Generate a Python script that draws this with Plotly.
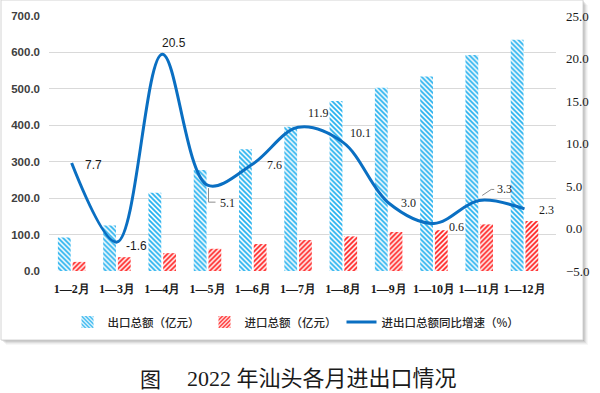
import plotly.graph_objects as go

# ---------------- data ----------------
months = ["1—2月", "1—3月", "1—4月", "1—5月", "1—6月", "1—7月",
          "1—8月", "1—9月", "1—10月", "1—11月", "1—12月"]
export_total = [92, 125, 215, 277, 334, 396, 467, 503, 534, 593, 635]
import_total = [25, 38, 49, 61, 74, 85, 95, 107, 112, 128, 137]
growth_rate = [7.7, -1.6, 20.5, 5.1, 7.6, 11.9, 10.1, 3.0, 0.6, 3.3, 2.3]

left_ticks = [0, 100, 200, 300, 400, 500, 600, 700]
right_ticks = [-5, 0, 5, 10, 15, 20, 25]

series_names = ["出口总额（亿元）", "进口总额（亿元）", "进出口总额同比增速（%）"]
caption_fig = "图"
caption_text = "2022 年汕头各月进出口情况"

# label styling (pixel offsets from each point, font family)
label_style = [
    (22, -2, "sans"), (20, -4, "sans"), (12, 11, "sans"), (20, -18, "serif"),
    (22, -1, "serif"), (20, 14, "serif"), (17, 10, "serif"), (20, 0, "serif"),
    (23, -4, "serif"), (25, 11, "serif"), (22, -1, "serif"),
]

W, H = 600, 393
ML, MR, MT, MB = 49, 44, 16, 122
PW, PH = W - ML - MR, H - MT - MB


def px(x):
    return (x - ML) / PW


def py(y):
    return (H - MB - y) / PH


SERIF = "Liberation Serif, Times New Roman, serif"
SANS = "Liberation Sans, Arial, sans-serif"
CJK = "Noto Sans CJK SC, sans-serif"

fig = go.Figure()

fig.add_trace(go.Bar(
    x=months, y=export_total, name=series_names[0], yaxis="y",
    marker=dict(color="white", line=dict(width=0),
                pattern=dict(shape="\\", fgcolor="#22B0EE", bgcolor="white",
                             size=3.5, solidity=0.5, fillmode="replace")),
))
fig.add_trace(go.Bar(
    x=months, y=import_total, name=series_names[1], yaxis="y",
    marker=dict(color="white", line=dict(width=0),
                pattern=dict(shape="/", fgcolor="#FF1A1A", bgcolor="white",
                             size=3.5, solidity=0.5, fillmode="replace")),
))
fig.add_trace(go.Scatter(
    x=months, y=growth_rate, name=series_names[2], yaxis="y2",
    mode="lines", line=dict(color="#0A6FC2", width=3, shape="spline", smoothing=1.0),
))

annotations = []
for m, v, (dx, dy, fam) in zip(months, growth_rate, label_style):
    annotations.append(dict(
        x=m, y=v, xref="x", yref="y2", text=f"{v:.1f}", showarrow=False,
        xshift=dx, yshift=dy, xanchor="center", yanchor="middle",
        font=dict(family=SANS if fam == "sans" else SERIF, size=12,
                  color="#1a1a1a"),
    ))

# caption
annotations.append(dict(x=px(150), y=py(378), xref="paper", yref="paper",
                        text=caption_fig, showarrow=False, xanchor="center", yanchor="middle",
                        font=dict(family=CJK, size=21, color="#1a1a1a")))
annotations.append(dict(x=px(185), y=py(378), xref="paper", yref="paper",
                        text=caption_text, showarrow=False, xanchor="left", yanchor="middle",
                        font=dict(family="Liberation Serif, Noto Sans CJK SC", size=22,
                                  color="#1a1a1a")))

shapes = []
# shadow of the chart frame
for i, op in enumerate([0.10, 0.08, 0.06, 0.04, 0.03]):
    off = i + 1
    shapes.append(dict(type="rect", xref="paper", yref="paper", layer="below",
                       x0=px(1 + off), x1=px(583 + off), y0=py(340 + off), y1=py(0 + off),
                       line=dict(width=0), fillcolor=f"rgba(0,0,0,{op})"))
shapes.append(dict(type="rect", xref="paper", yref="paper", layer="below",
                   x0=px(1), x1=px(583), y0=py(340), y1=py(0),
                   line=dict(width=1, color="#d4d4d4"), fillcolor="white"))

# leader lines for two labels
shapes.append(dict(type="path", xref="x", yref="y2", xsizemode="pixel", ysizemode="pixel",
                   xanchor=months[3], yanchor=growth_rate[3],
                   path="M 1,-3 L 1,-17 L 8,-17", line=dict(color="#8c8c8c", width=1)))
shapes.append(dict(type="path", xref="x", yref="y2", xsizemode="pixel", ysizemode="pixel",
                   xanchor=months[9], yanchor=growth_rate[9],
                   path="M 3,5 L 12,11 L 15,11", line=dict(color="#8c8c8c", width=1)))

fig.update_layout(
    width=W, height=H,
    margin=dict(l=ML, r=MR, t=MT, b=MB, pad=0, autoexpand=False),
    paper_bgcolor="white", plot_bgcolor="rgba(0,0,0,0)",
    barmode="group", bargap=0.35, bargroupgap=0.13,
    showlegend=True,
    legend=dict(orientation="h", x=px(296), xanchor="center", y=py(322), yanchor="middle",
                font=dict(family=CJK, size=11.5, color="#262626", weight=500),
                bgcolor="rgba(0,0,0,0)", itemwidth=30, tracegroupgap=0,
                traceorder="normal"),
    xaxis=dict(type="category", showgrid=False, showline=False, zeroline=False,
               ticks="", ticklabelstandoff=9,
               tickfont=dict(family=SERIF, size=12, color="#1a1a1a", weight="bold")),
    yaxis=dict(range=[0, 700], tickvals=left_ticks, tickformat=".1f",
               showgrid=True, gridcolor="#d9d9d9", gridwidth=1, zeroline=False,
               showline=False, ticks="", ticklabelstandoff=8,
               tickfont=dict(family=SANS, size=11.5, color="#404040", weight="bold")),
    yaxis2=dict(range=[-5, 25], tickvals=right_ticks, tickformat=".1f", overlaying="y",
                side="right", showgrid=False, zeroline=False, showline=False, ticks="",
                ticklabelstandoff=9,
                tickfont=dict(family=SERIF, size=13, color="#1a1a1a")),
    annotations=annotations,
    shapes=shapes,
)

fig.write_html(
    "out.html",
    config={"displayModeBar": False},
    post_script="document.body.style.margin='0';document.body.style.padding='0';"
                "document.documentElement.style.overflow='hidden';",
)
